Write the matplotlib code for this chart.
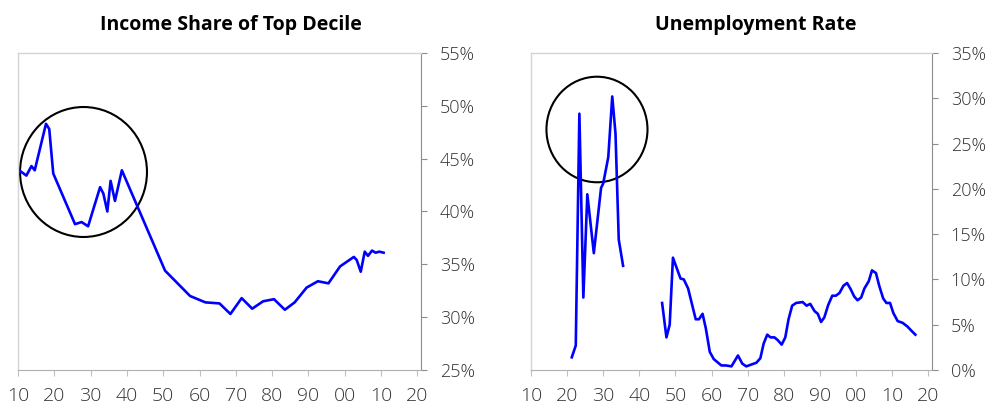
import matplotlib
matplotlib.use("Agg")
import matplotlib.pyplot as plt
from matplotlib.patches import Ellipse
from matplotlib.ticker import FixedLocator, FuncFormatter

plt.rcParams["font.family"] = ["Open Sans", "DejaVu Sans"]

# income share of top decile (%)
income_years = [1910.7, 1912.3, 1913.7, 1914.6, 1917.7, 1918.6, 1919.7, 1925.7, 1927.5,
                1929.3, 1932.6, 1933.5, 1934.6, 1935.5, 1936.7, 1938.6, 1950.5, 1957.4,
                1961.6, 1965.5, 1968.5, 1971.6, 1974.5, 1977.5, 1980.5, 1983.5, 1986.2,
                1989.5, 1992.6, 1995.5, 1998.7, 2002.5, 2003.3, 2004.4, 2005.5, 2006.4,
                2007.5, 2008.5, 2009.5, 2010.7]
income_share = [43.8, 43.4, 44.3, 43.9, 48.3, 47.8, 43.6, 38.8, 39.0,
                38.6, 42.3, 41.7, 40.0, 42.9, 41.0, 43.9, 34.4, 32.0,
                31.4, 31.3, 30.3, 31.8, 30.8, 31.5, 31.7, 30.7, 31.4,
                32.8, 33.4, 33.2, 34.8, 35.7, 35.4, 34.3, 36.2, 35.8,
                36.3, 36.1, 36.2, 36.1]

# unemployment rate (%), two separate stretches
unemp_years_a = [1921.3, 1922.4, 1923.4, 1924.5, 1925.6, 1927.4, 1929.4, 1930.0, 1931.4,
                 1932.5, 1933.4, 1934.3, 1935.5]
unemp_a = [1.4, 2.7, 28.3, 8.0, 19.4, 12.9, 20.1, 20.6, 23.5,
           30.2, 26.1, 14.4, 11.5]

unemp_years_b = [1946.3, 1947.5, 1948.4, 1949.3, 1951.4, 1952.3, 1953.5, 1955.6, 1956.5,
                 1957.5, 1958.4, 1959.5, 1960.6, 1961.5, 1962.7, 1964.0, 1965.5, 1967.3,
                 1968.5, 1969.6, 1971.0, 1972.4, 1973.5, 1974.4, 1975.4, 1976.3, 1977.4,
                 1978.3, 1979.4, 1980.4, 1981.3, 1982.3, 1983.4, 1985.2, 1986.3, 1987.3,
                 1988.5, 1989.4, 1990.3, 1991.2, 1992.3, 1993.4, 1994.4, 1995.4, 1996.5,
                 1997.5, 1998.4, 1999.5, 2000.4, 2001.4, 2002.3, 2003.5, 2004.4, 2005.5,
                 2006.4, 2007.5, 2008.4, 2009.4, 2010.3, 2011.5, 2012.9, 2014.2, 2015.4,
                 2016.4]
unemp_b = [7.4, 3.6, 5.0, 12.4, 10.1, 10.0, 9.0, 5.6, 5.6,
           6.2, 4.6, 2.0, 1.2, 0.9, 0.5, 0.5, 0.4, 1.6,
           0.7, 0.4, 0.6, 0.8, 1.3, 2.9, 3.9, 3.6, 3.6,
           3.3, 2.8, 3.6, 5.6, 7.1, 7.4, 7.5, 7.1, 7.3,
           6.5, 6.2, 5.3, 5.8, 7.2, 8.2, 8.2, 8.5, 9.3,
           9.6, 9.0, 8.1, 7.7, 8.0, 9.0, 9.8, 11.0, 10.7,
           9.3, 7.9, 7.4, 7.4, 6.3, 5.4, 5.2, 4.8, 4.3,
           3.9]

x_ticks = list(range(1910, 2021, 10))
income_ticks = [25, 30, 35, 40, 45, 50, 55]
unemp_ticks = [0, 5, 10, 15, 20, 25, 30, 35]

LINE = "#0000FF"
TEXT = "#333333"


def style_axes(ax, ylim, yticks):
    ax.set_xlim(1910, 2021)
    ax.set_ylim(*ylim)
    ax.xaxis.set_major_locator(FixedLocator(x_ticks))
    ax.xaxis.set_major_formatter(FuncFormatter(lambda v, p: f"{int(v) % 100:02d}"))
    ax.yaxis.set_major_locator(FixedLocator(yticks))
    ax.yaxis.set_major_formatter(FuncFormatter(lambda v, p: f"{int(v)}%"))
    ax.yaxis.tick_right()
    for side in ("left", "top"):
        ax.spines[side].set_color("#d4d4d4")
        ax.spines[side].set_linewidth(1.0)
    ax.spines["bottom"].set_color("#b0b0b0")
    ax.spines["right"].set_color("#8c8c8c")
    ax.tick_params(axis="x", length=4, color="#c0c0c0", pad=8, labelsize=14, labelcolor=TEXT)
    ax.tick_params(axis="y", length=4.5, color="#8c8c8c", pad=9, labelsize=13, labelcolor=TEXT)
    for lab in ax.get_xticklabels() + ax.get_yticklabels():
        lab.set_fontweight("light")


fig = plt.figure(figsize=(9.96, 4.09), dpi=100)

ax1 = fig.add_axes([0.0181, 0.0954, 0.4046, 0.775])
ax1.plot(income_years, income_share, color=LINE, lw=1.9)
style_axes(ax1, (25, 55), income_ticks)
ax1.add_patch(Ellipse((0.1625, 0.6246), 0.315, 0.41, transform=ax1.transAxes,
                      fill=False, ec="black", lw=1.5))

ax2 = fig.add_axes([0.5331, 0.0954, 0.4026, 0.775])
ax2.plot(unemp_years_a, unemp_a, color=LINE, lw=1.9)
ax2.plot(unemp_years_b, unemp_b, color=LINE, lw=1.9)
style_axes(ax2, (0, 35), unemp_ticks)
ax2.add_patch(Ellipse((0.1646, 0.7587), 0.252, 0.333, transform=ax2.transAxes,
                      fill=False, ec="black", lw=1.5))

fig.text(0.232, 0.94, "Income Share of Top Decile", ha="center", va="center",
         fontsize=14, fontweight="bold", color="black")
fig.text(0.759, 0.94, "Unemployment Rate", ha="center", va="center",
         fontsize=14, fontweight="bold", color="black")

fig.savefig("out.png", dpi=100)
plt.close(fig)
